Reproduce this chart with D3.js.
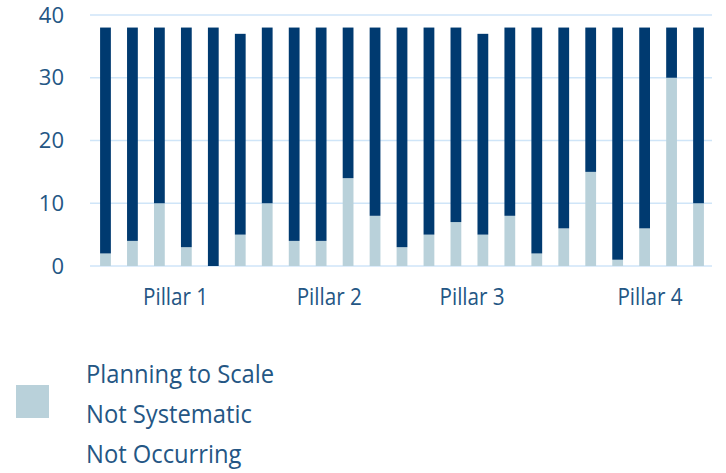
<!DOCTYPE html>
<html>
<head>
<meta charset="utf-8">
<script src="https://cdn.jsdelivr.net/npm/d3@7"></script>
<style>
  html, body { margin: 0; padding: 0; background: #fff; }
  svg { display: block; }
  text { font-family: "Open Sans", sans-serif; fill: #245684; }
</style>
</head>
<body>
<svg id="chart" width="726" height="473"></svg>
<script>
// ---- data ----
const bars = d3.range(1, 24).map(String);
const planningToScale = [2, 4, 10, 3, 0, 5, 10, 4, 4, 14, 8, 3, 5, 7, 5, 8, 2, 6, 15, 1, 6, 30, 10];
const notSystematic   = [36, 34, 28, 35, 38, 32, 28, 34, 34, 24, 30, 35, 33, 31, 32, 30, 36, 32, 23, 37, 32, 8, 28];
const notOccurring    = [0, 0, 0, 0, 0, 0, 0, 0, 0, 0, 0, 0, 0, 0, 0, 0, 0, 0, 0, 0, 0, 0, 0];
const yTicks = [0, 10, 20, 30, 40];
const pillarLabels = ["Pillar 1", "Pillar 2", "Pillar 3", "Pillar 4"];
const pillarPos = [2.6, 8.3, 13.6, 20.2]; // label position in bar-index units
const legendLabels = ["Planning to Scale", "Not Systematic", "Not Occurring"];

const colors = { planning: "#b9d1da", notSys: "#003a70", notOcc: "#003a70", grid: "#cfe5f8" };

const svg = d3.select("#chart");

const x = d3.scaleBand().domain(bars).range([92, 712]).paddingInner(0.6).paddingOuter(0.3);
const y = d3.scaleLinear().domain([0, 40]).range([266, 15]);
const xi = d3.scaleLinear().domain([0, bars.length - 1])
  .range([x(bars[0]) + x.bandwidth() / 2, x(bars[bars.length - 1]) + x.bandwidth() / 2]);

// condense text horizontally (reference font is narrower)
function condense(sel, f) {
  sel.each(function () {
    const w = this.getComputedTextLength();
    d3.select(this).attr("textLength", w * f).attr("lengthAdjust", "spacingAndGlyphs");
  });
}

// gridlines
svg.append("g").selectAll("line").data(yTicks).join("line")
  .attr("x1", 90).attr("x2", 712)
  .attr("y1", d => y(d)).attr("y2", d => y(d))
  .attr("stroke", colors.grid).attr("stroke-width", 1.6);

// y axis labels
const yAxis = d3.axisLeft(y).tickValues(yTicks).tickSize(0).tickPadding(0);
const gy = svg.append("g").attr("transform", "translate(64,0)").call(yAxis);
gy.select(".domain").remove();
gy.selectAll("text").style("font-size", "22px").attr("fill", "#245684").attr("font-family", "Open Sans");

// stacked bars
const rows = bars.map((b, i) => ({ bar: b, planning: planningToScale[i], notSys: notSystematic[i], notOcc: notOccurring[i] }));
const stack = d3.stack().keys(["planning", "notSys", "notOcc"])(rows);
svg.append("g").selectAll("g").data(stack).join("g")
  .attr("fill", d => colors[d.key])
  .selectAll("rect").data(d => d).join("rect")
  .attr("x", d => x(d.data.bar))
  .attr("width", x.bandwidth())
  .attr("y", d => y(d[1]))
  .attr("height", d => Math.max(0, y(d[0]) - y(d[1])));

// pillar labels
svg.append("g").selectAll("text").data(pillarLabels).join("text")
  .attr("x", (d, i) => xi(pillarPos[i]))
  .attr("y", 305)
  .attr("text-anchor", "middle")
  .style("font-size", "24px")
  .text(d => d)
  .call(condense, 0.86);

// legend
svg.append("rect").attr("x", 16).attr("y", 385).attr("width", 33).attr("height", 33).attr("fill", colors.planning);
svg.append("g").selectAll("text").data(legendLabels).join("text")
  .attr("x", 86)
  .attr("y", (d, i) => 383 + i * 40)
  .style("font-size", "25px")
  .text(d => d)
  .call(condense, 0.95);
</script>
</body>
</html>
